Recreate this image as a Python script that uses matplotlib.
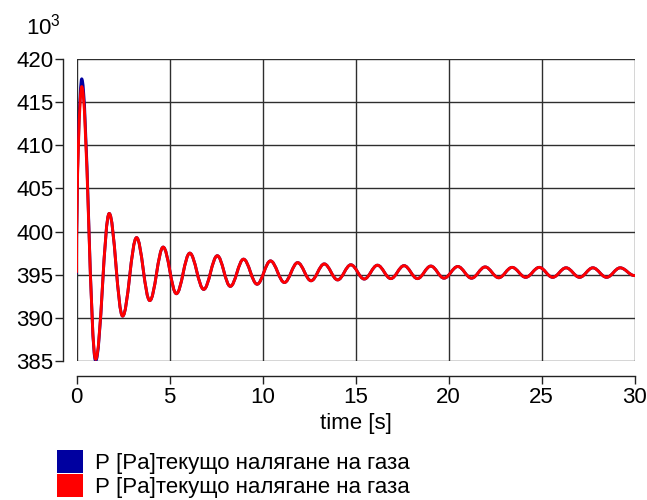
import matplotlib
matplotlib.use("Agg")
import matplotlib.pyplot as plt
from matplotlib.path import Path
from matplotlib.patches import PathPatch, Patch

plt.rcParams['font.family'] = ['Liberation Sans', 'DejaVu Sans']

# Turning points of the gas pressure trace: time [s] and pressure [10^3 Pa]
times = [0.0, 0.28, 1.03, 1.76, 2.48, 3.23, 3.94, 4.66, 5.37, 6.09, 6.84,
         7.57, 8.27, 8.98, 9.71, 10.43, 11.18, 11.89, 12.61, 13.32, 14.04,
         14.75, 15.47, 16.18, 16.90, 17.61, 18.33, 19.05, 19.76, 20.50, 21.24,
         21.97, 22.70, 23.42, 24.15, 24.88, 25.60, 26.32, 27.05, 27.76, 28.50,
         29.23, 30.0]
pressure_red = [395.3, 416.8, 385.2, 402.1, 390.2, 399.3, 392.0, 398.2, 392.8,
                397.5, 393.3, 397.2, 393.65, 396.8, 393.9, 396.6, 394.1, 396.4,
                394.3, 396.25, 394.4, 396.15, 394.5, 396.1, 394.55, 396.05,
                394.55, 396.0, 394.6, 395.95, 394.6, 395.9, 394.65, 395.85,
                394.7, 395.85, 394.7, 395.8, 394.7, 395.8, 394.7, 395.8, 394.9]
# The blue trace only departs from the red one over the first swing
pressure_blue_head = [395.2, 417.7, 385.0]
pressure_blue = pressure_blue_head + pressure_red[len(pressure_blue_head):]

series_labels = ["Р [Pa]текущо налягане на газа", "Р [Pa]текущо налягане на газа"]
x_ticks = [0, 5, 10, 15, 20, 25, 30]
y_ticks = [385, 390, 395, 400, 405, 410, 415, 420]

BLUE = "#0000a0"
RED = "#ff0000"
FS = 16


def smooth_path(t, v, k=0.364):
    """Cubic Bezier path through turning points with flat tangents at each one."""
    verts = [(t[0], v[0])]
    codes = [Path.MOVETO]
    for i in range(1, len(t)):
        d = t[i] - t[i - 1]
        if i == 1:
            # the response leaves its start value almost vertically
            c1 = (t[0], v[0] + 0.5 * (v[1] - v[0]))
        else:
            c1 = (t[i - 1] + k * d, v[i - 1])
        c2 = (t[i] - k * d, v[i])
        verts += [c1, c2, (t[i], v[i])]
        codes += [Path.CURVE4] * 3
    return Path(verts, codes)


fig = plt.figure(figsize=(6.47, 5.0), dpi=100)
ax = fig.add_axes([76.5 / 647, 1 - 361 / 500, (634.5 - 76.5) / 647, (361 - 59) / 500])

for vals, col in ((pressure_blue, BLUE), (pressure_red, RED)):
    ax.add_patch(PathPatch(smooth_path(times, vals), facecolor="none",
                           edgecolor=col, linewidth=2.1, capstyle="round",
                           joinstyle="round"))

ax.set_xlim(0, 30)
ax.set_ylim(385, 420)
ax.set_xticks(x_ticks)
ax.set_yticks(y_ticks)
ax.grid(True, color="#2e2e2e", linewidth=1.0)
ax.set_axisbelow(True)

for side in ("top", "right"):
    ax.spines[side].set_visible(False)
ax.spines["left"].set_position(("outward", 10))
ax.spines["bottom"].set_position(("outward", 10.5))
for side in ("left", "bottom"):
    ax.spines[side].set_linewidth(1.0)
    ax.spines[side].set_color("#222222")

ax.tick_params(axis="both", labelsize=FS, width=1.0, color="#222222",
               direction="out")
ax.tick_params(axis="x", length=6, pad=2.5)
ax.tick_params(axis="y", length=5.5, pad=1)

ax.set_xlabel("time [s]", fontsize=FS, labelpad=3)
ax.text(-0.09, 1.065, r"$\mathregular{10^3}$", transform=ax.transAxes,
        fontsize=FS, ha="left", va="bottom")

handles = [Patch(facecolor=BLUE, edgecolor="none"),
           Patch(facecolor=RED, edgecolor="none")]
fig.legend(handles, series_labels, loc="upper left",
           bbox_to_anchor=(57 / 647, 1 - 450 / 500), frameon=False,
           fontsize=FS, handlelength=1.18, handleheight=1.23,
           handletextpad=0.55, labelspacing=0.0, borderpad=0.0,
           borderaxespad=0.0)

fig.savefig("out.png", dpi=100)
